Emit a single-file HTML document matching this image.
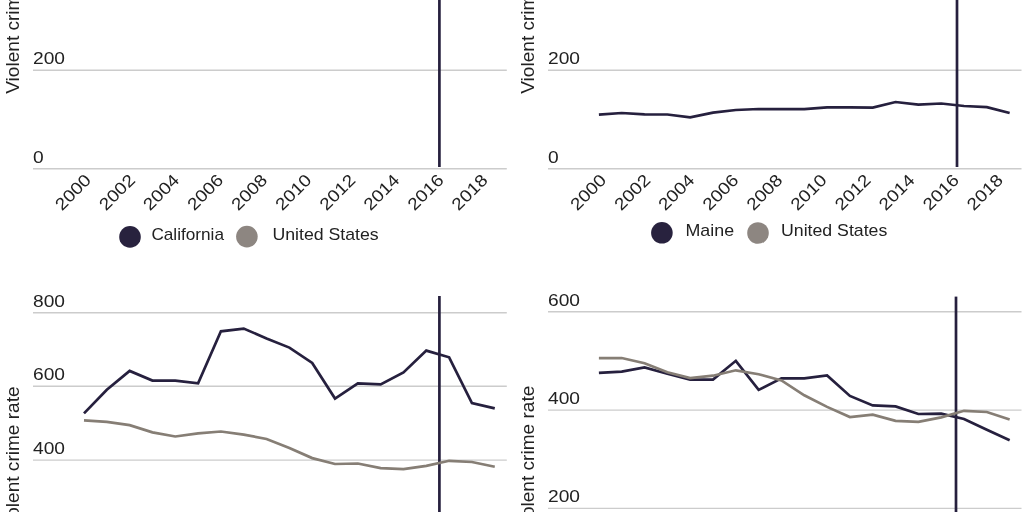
<!DOCTYPE html>
<html><head><meta charset="utf-8"><style>
html,body{margin:0;padding:0;background:#fff;width:1024px;height:512px;overflow:hidden}
svg{display:block;will-change:transform}
text{font-family:"Liberation Sans",sans-serif;fill:#222}
.yl{font-size:17px}
.tk{font-size:17px}
.lg{font-size:16.6px}
.yt{font-size:18px}
</style></head><body>
<svg width="1024" height="512" viewBox="0 0 1024 512">
<line x1="33" x2="506.8" y1="70.3" y2="70.3" stroke="#cccccc" stroke-width="1.4"/>
<line x1="33" x2="506.8" y1="168.7" y2="168.7" stroke="#cccccc" stroke-width="1.4"/>
<text class="yl" transform="translate(33,64) scale(1.13,1)">200</text>
<text class="yl" transform="translate(33,163) scale(1.13,1)">0</text>
<line x1="439.4" x2="439.4" y1="-5" y2="167" stroke="#26203e" stroke-width="2.7"/>
<line x1="548" x2="1021.5" y1="70.3" y2="70.3" stroke="#cccccc" stroke-width="1.4"/>
<line x1="548" x2="1021.5" y1="168.7" y2="168.7" stroke="#cccccc" stroke-width="1.4"/>
<text class="yl" transform="translate(548,64) scale(1.13,1)">200</text>
<text class="yl" transform="translate(548,163) scale(1.13,1)">0</text>
<polyline points="598.90,114.60 621.72,113.00 644.54,114.40 667.36,114.50 690.18,117.40 713.00,112.60 735.82,110.00 758.64,109.00 781.46,109.20 804.28,109.20 827.10,107.40 849.92,107.40 872.74,107.60 895.56,102.00 918.38,104.60 941.20,103.50 964.02,106.00 986.84,107.10 1009.66,113.00" fill="none" stroke="#26203e" stroke-width="2.7" stroke-linejoin="miter"/>
<line x1="957.0" x2="957.0" y1="-5" y2="167" stroke="#26203e" stroke-width="2.7"/>
<text class="tk" transform="translate(92.10,181.20) rotate(-45) scale(1.13,1)" text-anchor="end">2000</text>
<text class="tk" transform="translate(607.35,181.20) rotate(-45) scale(1.13,1)" text-anchor="end">2000</text>
<text class="tk" transform="translate(136.18,181.20) rotate(-45) scale(1.13,1)" text-anchor="end">2002</text>
<text class="tk" transform="translate(651.43,181.20) rotate(-45) scale(1.13,1)" text-anchor="end">2002</text>
<text class="tk" transform="translate(180.26,181.20) rotate(-45) scale(1.13,1)" text-anchor="end">2004</text>
<text class="tk" transform="translate(695.51,181.20) rotate(-45) scale(1.13,1)" text-anchor="end">2004</text>
<text class="tk" transform="translate(224.34,181.20) rotate(-45) scale(1.13,1)" text-anchor="end">2006</text>
<text class="tk" transform="translate(739.59,181.20) rotate(-45) scale(1.13,1)" text-anchor="end">2006</text>
<text class="tk" transform="translate(268.42,181.20) rotate(-45) scale(1.13,1)" text-anchor="end">2008</text>
<text class="tk" transform="translate(783.67,181.20) rotate(-45) scale(1.13,1)" text-anchor="end">2008</text>
<text class="tk" transform="translate(312.50,181.20) rotate(-45) scale(1.13,1)" text-anchor="end">2010</text>
<text class="tk" transform="translate(827.75,181.20) rotate(-45) scale(1.13,1)" text-anchor="end">2010</text>
<text class="tk" transform="translate(356.58,181.20) rotate(-45) scale(1.13,1)" text-anchor="end">2012</text>
<text class="tk" transform="translate(871.83,181.20) rotate(-45) scale(1.13,1)" text-anchor="end">2012</text>
<text class="tk" transform="translate(400.66,181.20) rotate(-45) scale(1.13,1)" text-anchor="end">2014</text>
<text class="tk" transform="translate(915.91,181.20) rotate(-45) scale(1.13,1)" text-anchor="end">2014</text>
<text class="tk" transform="translate(444.74,181.20) rotate(-45) scale(1.13,1)" text-anchor="end">2016</text>
<text class="tk" transform="translate(959.99,181.20) rotate(-45) scale(1.13,1)" text-anchor="end">2016</text>
<text class="tk" transform="translate(488.82,181.20) rotate(-45) scale(1.13,1)" text-anchor="end">2018</text>
<text class="tk" transform="translate(1004.07,181.20) rotate(-45) scale(1.13,1)" text-anchor="end">2018</text>
<circle cx="130" cy="236.9" r="10.8" fill="#28223e"/>
<text class="lg" transform="translate(151.4,239.8) scale(1.036,1)">California</text>
<circle cx="246.9" cy="236.6" r="10.8" fill="#8d8681"/>
<text class="lg" transform="translate(272.4,240) scale(1.068,1)">United States</text>
<circle cx="661.9" cy="232.8" r="10.8" fill="#28223e"/>
<text class="lg" transform="translate(685.5,236.2) scale(1.074,1)">Maine</text>
<circle cx="758" cy="233" r="10.8" fill="#8d8681"/>
<text class="lg" transform="translate(781,235.8) scale(1.068,1)">United States</text>
<line x1="33" x2="506.8" y1="312.7" y2="312.7" stroke="#cccccc" stroke-width="1.4"/>
<line x1="33" x2="506.8" y1="386.3" y2="386.3" stroke="#cccccc" stroke-width="1.4"/>
<line x1="33" x2="506.8" y1="460.1" y2="460.1" stroke="#cccccc" stroke-width="1.4"/>
<text class="yl" transform="translate(33,307) scale(1.13,1)">800</text>
<text class="yl" transform="translate(33,380) scale(1.13,1)">600</text>
<text class="yl" transform="translate(33,454) scale(1.13,1)">400</text>
<polyline points="84.00,413.40 106.82,389.70 129.64,370.90 152.46,380.60 175.28,380.60 198.10,383.30 220.92,331.30 243.74,328.60 266.56,338.40 289.38,347.60 312.20,362.90 335.02,398.60 357.84,383.40 380.66,384.40 403.48,372.50 426.30,350.60 449.12,357.30 471.94,403.00 494.76,408.40" fill="none" stroke="#26203e" stroke-width="2.7" stroke-linejoin="miter"/>
<line x1="439.4" x2="439.4" y1="296" y2="520" stroke="#26203e" stroke-width="2.7"/>
<polyline points="84.00,420.30 106.82,421.90 129.64,425.10 152.46,432.40 175.28,436.50 198.10,433.40 220.92,431.50 243.74,434.60 266.56,439.00 289.38,447.90 312.20,458.10 335.02,464.00 357.84,463.50 380.66,468.10 403.48,469.20 426.30,465.80 449.12,460.80 471.94,462.00 494.76,466.70" fill="none" stroke="#867e75" stroke-width="2.7" stroke-linejoin="miter"/>
<line x1="548" x2="1021.5" y1="311.7" y2="311.7" stroke="#cccccc" stroke-width="1.4"/>
<line x1="548" x2="1021.5" y1="410.1" y2="410.1" stroke="#cccccc" stroke-width="1.4"/>
<line x1="548" x2="1021.5" y1="508.4" y2="508.4" stroke="#cccccc" stroke-width="1.4"/>
<text class="yl" transform="translate(548,306) scale(1.13,1)">600</text>
<text class="yl" transform="translate(548,404) scale(1.13,1)">400</text>
<text class="yl" transform="translate(548,502) scale(1.13,1)">200</text>
<polyline points="598.90,372.90 621.72,371.60 644.54,367.40 667.36,373.70 690.18,379.60 713.00,379.60 735.82,360.80 758.64,389.90 781.46,378.30 804.28,378.30 827.10,375.50 849.92,395.90 872.74,405.40 895.56,406.40 918.38,414.00 941.20,413.70 964.02,419.00 986.84,429.80 1009.66,440.20" fill="none" stroke="#26203e" stroke-width="2.7" stroke-linejoin="miter"/>
<line x1="956.0" x2="956.0" y1="296.6" y2="520" stroke="#26203e" stroke-width="2.7"/>
<polyline points="598.90,358.20 621.72,358.00 644.54,363.20 667.36,372.30 690.18,378.10 713.00,375.70 735.82,370.30 758.64,374.20 781.46,380.40 804.28,395.30 827.10,406.90 849.92,417.00 872.74,414.70 895.56,420.90 918.38,421.90 941.20,417.40 964.02,410.80 986.84,412.00 1009.66,419.50" fill="none" stroke="#867e75" stroke-width="2.7" stroke-linejoin="miter"/>
<text class="yt" transform="translate(18.9,93.75) rotate(-90) scale(1.06,1)">Violent crime rate</text>
<text class="yt" transform="translate(534.4,93.75) rotate(-90) scale(1.06,1)">Violent crime rate</text>
<text class="yt" transform="translate(18.9,386.4) rotate(-90) scale(1.06,1)" text-anchor="end">Violent crime rate</text>
<text class="yt" transform="translate(533.8,385.7) rotate(-90) scale(1.06,1)" text-anchor="end">Violent crime rate</text>
</svg>
</body></html>
